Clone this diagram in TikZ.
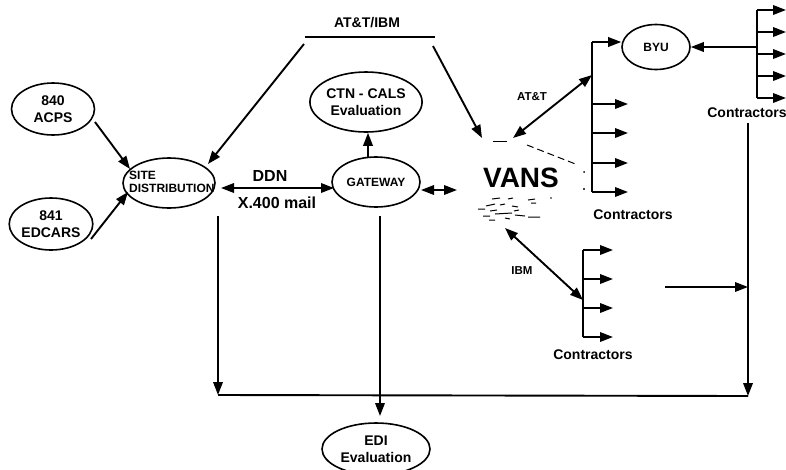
\documentclass[tikz,border=0pt]{standalone}
\usepackage{fontspec}
\setmainfont{Liberation Sans}
\usetikzlibrary{shapes.geometric,arrows.meta,calc}
\begin{document}
\begin{tikzpicture}[x=1pt,y=-1pt,
  ell/.style={draw, ellipse, line width=1.6pt, inner sep=0pt},
  conn/.style={line width=1.9pt},
  arr/.style={conn, -{Triangle[length=13pt,width=9.5pt]}},
  darr/.style={conn, {Triangle[length=13pt,width=9.5pt]}-{Triangle[length=13pt,width=9.5pt]}},
  fa/.style={font=\fontsize{14}{17}\selectfont\bfseries, align=center},
  fb/.style={font=\fontsize{12}{13}\selectfont\bfseries},
  fc/.style={font=\fontsize{16}{18}\selectfont\bfseries},
  fs/.style={font=\fontsize{11.5}{13}\selectfont\bfseries},
  noise/.style={line width=1pt}
]
\useasboundingbox (0,0) rectangle (786,469);

% ellipses
\node[ell, minimum width=83pt, minimum height=52pt, fa] (acps) at (53,109) {840\\ACPS};
\node[ell, minimum width=82pt, minimum height=52pt, fa] (edcars) at (51,224) {841\\EDCARS};
\node[ell, minimum width=92pt, minimum height=50pt] (site) at (169,183) {};
\node[fb, align=left, anchor=west, inner sep=0pt] (sitetext) at (129,182) {SITE\\DISTRIBUTION};
\node[ell, minimum width=88pt, minimum height=50pt, fb] (gateway) at (376,182) {GATEWAY};
\node[ell, minimum width=109pt, minimum height=60pt, fa] (ctn) at (366,102) {CTN - CALS\\Evaluation};
\node[ell, minimum width=68pt, minimum height=45pt, fb] (byu) at (656,47) {BYU};
\node[ell, minimum width=108pt, minimum height=52pt, fa] (edi) at (376,449) {EDI\\Evaluation};
\node[font=\fontsize{28}{30}\selectfont\bfseries] (vans) at (521,178) {VANS};

% labels
\node[fa] (attibm) at (367,23) {AT\&T/IBM};
\node[fc] (ddn) at (270,176) {DDN};
\node[fc] (x400) at (277,203) {X.400 mail};
\node[fs] (att) at (532,97) {AT\&T};
\node[fs] (ibm) at (522,271) {IBM};
\node[fa] (c1) at (633,215) {Contractors};
\node[fa] (c2) at (747,113) {Contractors};
\node[fa] (c3) at (593,355) {Contractors};

% AT&T/IBM bar
\coordinate (barl) at (305,37);
\coordinate (barr) at (435,37);
\draw[conn] (barl) -- (barr);
\coordinate (dl) at (304,44);
\coordinate (sitetip) at (208,164);
\draw[arr] (dl) -- (sitetip);
\coordinate (dr) at (433,46);
\coordinate (vanstip) at (482,138);
\draw[arr] (dr) -- (vanstip);

% inputs to site
\coordinate (acpsout) at (95,122);
\coordinate (sitein1) at (130,169);
\draw[arr] (acpsout) -- (sitein1);
\coordinate (edcout) at (91,239);
\coordinate (sitein2) at (128,192);
\draw[arr] (edcout) -- (sitein2);

% DDN link
\coordinate (ddnl) at (221,188);
\coordinate (ddnr) at (334,188);
\draw[darr] (ddnl) -- (ddnr);

% gateway to ctn
\coordinate (gwtop) at (368,158);
\draw[arr] (gwtop) -- (ctn.south -| gwtop);

% gateway to vans
\coordinate (gwr) at (421,190);
\coordinate (gwr2) at (457,190);
\draw[darr] (gwr) -- (gwr2);

% VANS cloud scraps
\draw[noise] (493,141) -- (507,141);
\draw[noise, dash pattern=on 7pt off 4pt] (527,145) -- (578,165);
\fill (584,172) circle (1pt);
\fill (584,189) circle (1.2pt);
\draw[noise] (492,199) -- (500,198) (508,199) -- (513,198) (528,200) -- (535,199);
\draw[noise] (486,206) -- (495,204) (500,205) -- (505,204) (512,206) -- (518,207) (531,203) -- (536,203);
\draw[noise] (478,209) -- (485,209) (490,211) -- (497,210) (514,211) -- (519,210);
\draw[noise] (483,216) -- (490,216) (495,214) -- (512,213) (515,215) -- (525,216) (528,217) -- (540,217);
\draw[noise] (489,220) -- (495,220) (505,218) -- (510,219);
\fill (551,198) circle (0.8pt);

% AT&T link and upper contractors
\coordinate (atta) at (513,138);
\coordinate (attb) at (592,75);
\draw[darr] (atta) -- (attb);
\coordinate (bus1t) at (592,42);
\coordinate (bus1b) at (592,192);
\draw[conn] (bus1b) -- (bus1t);
\draw[arr] (bus1t) -- (bus1t -| byu.west);
\foreach \yy in {104,133,163,192}
  \draw[arr] (592,\yy) -- (628,\yy);

% right contractors
\coordinate (bus2t) at (757,10);
\coordinate (bus2b) at (757,98);
\draw[conn] (bus2t) -- (bus2b);
\foreach \yy in {10,32,54,76,98}
  \draw[arr] (757,\yy) -- (786,\yy);
\draw[arr] (bus2t |- byu.east) -- (byu.east);

% IBM link and lower contractors
\coordinate (ibma) at (505,228);
\coordinate (ibmb) at (583,300);
\draw[darr] (ibma) -- (ibmb);
\coordinate (bus3t) at (583,250);
\coordinate (bus3b) at (583,337);
\draw[conn] (bus3t) -- (bus3b);
\foreach \yy in {250,279,308,337}
  \draw[arr] (583,\yy) -- (613,\yy);

% bottom collection
\coordinate (rtop) at (748,123);
\coordinate (rbot) at (748,396);
\draw[arr] (rtop) -- (rbot);
\coordinate (side) at (665,287);
\draw[arr] (side) -- (side -| rtop);
\coordinate (ltop) at (218,216);
\coordinate (lbot) at (218,395);
\draw[arr] (ltop) -- (lbot);
\draw[conn] (lbot) -- (rbot);
\coordinate (mtop) at (380,216);
\coordinate (mbot) at (380,416);
\draw[arr] (mtop) -- (mbot);
\end{tikzpicture}
\end{document}
